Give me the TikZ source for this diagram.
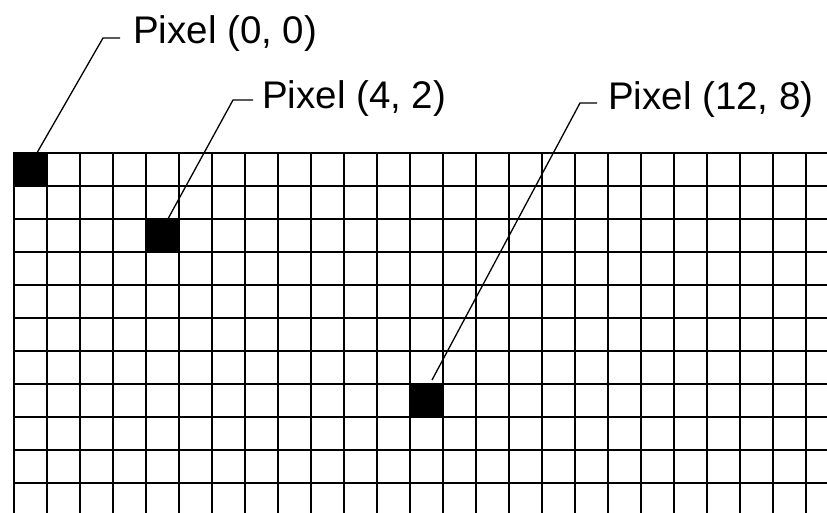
\documentclass[tikz,border=0pt]{standalone}
\usepackage{fontspec}
\setmainfont{Liberation Sans}
\begin{document}
\begin{tikzpicture}[x=1pt,y=-1pt,
  gridline/.style={line width=2.6pt,line cap=rect},
  pix/.style={fill=black,minimum size=33pt,inner sep=0pt,draw=none},
  leader/.style={line width=1.3pt},
  lbl/.style={anchor=base west,inner sep=0pt,font=\fontsize{38.5}{40}\selectfont}]
\useasboundingbox[fill=white] (0,0) rectangle (827,512);
% black pixels
\node[pix] (p00) at (30.5,169.5) {};
\node[pix] (p42) at (162.5,235.5) {};
\node[pix] (p128) at (426.5,400.5) {};
% grid
\foreach \i in {0,...,10} \draw[gridline] (14,153+33*\i) -- (827,153+33*\i);
\foreach \i in {0,...,24} \draw[gridline] (14+33*\i,153) -- (14+33*\i,512);
% labels
\node[lbl] (l00) at (133,43) {Pixel (0, 0)};
\node[lbl] (l42) at (262,108) {Pixel (4, 2)};
\node[lbl] (l128) at (608,109) {Pixel (12, 8)};
% leader tick points
\coordinate (t00a) at (103,38);
\coordinate (t00b) at (120,38);
\coordinate (t42a) at (233,100);
\coordinate (t42b) at (253,100);
\coordinate (t128a) at (580,103);
\coordinate (t128b) at (597,103);
\coordinate (e128) at (432,380);
% leaders
\draw[leader] ([xshift=6.5pt]p00.north) -- (t00a) -- (t00b);
\draw[leader] ([xshift=5.5pt]p42.north) -- (t42a) -- (t42b);
\draw[leader] (e128) -- (t128a) -- (t128b);
\end{tikzpicture}
\end{document}
